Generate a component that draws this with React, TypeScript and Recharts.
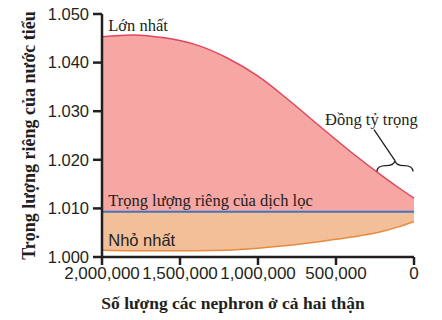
import React from 'react'
import { ComposedChart, Area, Line, XAxis, YAxis, ReferenceDot } from 'recharts'

const nephrons = [2000000, 1800000, 1600000, 1400000, 1200000, 1000000, 800000, 600000, 400000, 200000, 100000, 0]
const maxSG = [1.0453, 1.0457, 1.0451, 1.0437, 1.041, 1.0372, 1.0322, 1.0268, 1.0215, 1.0166, 1.0143, 1.0121]
const minSG = [1.0014, 1.0013, 1.0013, 1.0013, 1.0014, 1.0018, 1.0024, 1.0032, 1.0041, 1.0053, 1.0062, 1.0073]
const filtrateSG = [1.0093, 1.0093, 1.0093, 1.0093, 1.0093, 1.0093, 1.0093, 1.0093, 1.0093, 1.0093, 1.0093, 1.0093]
const xTicks = [2000000, 1500000, 1000000, 500000, 0]
const yTicks = [1.0, 1.01, 1.02, 1.03, 1.04, 1.05]

const rows = nephrons.map((n, i) => ({
  n,
  max: maxSG[i],
  min: minSG[i],
  filtrate: filtrateSG[i],
  upper: [filtrateSG[i], maxSG[i]],
  lower: [minSG[i], filtrateSG[i]],
}))

const serif = '"Liberation Serif", "DejaVu Serif", serif'
const sans = '"Liberation Sans", Arial, sans-serif'
const ink = '#231f20'

function textAt(label: string, font: string, size: number) {
  return (props: any) => (
    <text x={props.cx} y={props.cy} fontFamily={font} fontSize={size} fill={ink}>
      {label}
    </text>
  )
}

function brace(props: any) {
  const { cx, cy } = props
  const w = 18
  return (
    <g fill="none" stroke={ink} strokeWidth={1.3}>
      <path
        d={`M ${cx - w} ${cy + 5} Q ${cx - w} ${cy - 1} ${cx - 9} ${cy - 1} Q ${cx - 1} ${cy - 1} ${cx} ${cy - 6} Q ${cx + 1} ${cy - 1} ${cx + 9} ${cy - 1} Q ${cx + w} ${cy - 1} ${cx + w} ${cy + 5}`}
      />
      <line x1={cx} y1={cy - 6} x2={cx - 21} y2={cy - 37} />
    </g>
  )
}

const fmtX = (v: number) => v.toLocaleString('en-US')

function XTitle(props: any) {
  const vb = props.viewBox
  return (
    <text
      x={vb.x + vb.width / 2 - 25}
      y={309}
      textAnchor="middle"
      fontFamily={serif}
      fontWeight="bold"
      fontSize={17.5}
      fill={ink}
    >
      Số lượng các nephron ở cả hai thận
    </text>
  )
}

function YTitle(props: any) {
  const vb = props.viewBox
  const cy = vb.y + vb.height / 2
  return (
    <text
      x={35}
      y={cy}
      transform={`rotate(-90 35 ${cy})`}
      textAnchor="middle"
      fontFamily={serif}
      fontWeight="bold"
      fontSize={18}
      fill={ink}
    >
      Trọng lượng riêng của nước tiểu
    </text>
  )
}

export default function App() {
  return (
    <div style={{ position: 'absolute', left: 0, top: 0, width: 442, height: 320, background: '#fff' }}>
      <ComposedChart width={442} height={320} data={rows} margin={{ top: 14, right: 28, left: 0, bottom: 0 }}>
        <XAxis
          dataKey="n"
          type="number"
          domain={[0, 2000000]}
          reversed
          ticks={xTicks}
          tickFormatter={fmtX}
          height={63}
          stroke={ink}
          strokeWidth={2.5}
          tickSize={8}
          tick={{ fontSize: 17, fill: ink, fontFamily: sans }}
          interval={0}
          label={<XTitle />}
        />
        <YAxis
          type="number"
          domain={[1.0, 1.05]}
          ticks={yTicks}
          tickFormatter={(v: number) => v.toFixed(3)}
          width={102}
          stroke={ink}
          strokeWidth={2.5}
          tickSize={9}
          tick={{ fontSize: 16.5, fill: ink, fontFamily: sans, dx: -2 }}
          interval={0}
          label={<YTitle />}
        />
        <Area dataKey="upper" type="monotone" fill="#f6a6a3" fillOpacity={1} stroke="none" isAnimationActive={false} />
        <Area dataKey="lower" type="monotone" fill="#f2bf98" fillOpacity={1} stroke="none" isAnimationActive={false} />
        <Line dataKey="max" type="monotone" stroke="#e0475e" strokeWidth={1.5} dot={false} isAnimationActive={false} />
        <Line dataKey="min" type="monotone" stroke="#e8893c" strokeWidth={1.5} dot={false} isAnimationActive={false} />
        <Line dataKey="filtrate" type="monotone" stroke="#3c78c0" strokeWidth={2} dot={false} isAnimationActive={false} />
        <ReferenceDot x={1960000} y={1.0466} r={0} shape={textAt('Lớn nhất', serif, 16.5)} />
        <ReferenceDot x={1960000} y={1.0104} r={0} shape={textAt('Trọng lượng riêng của dịch lọc', serif, 16.5)} />
        <ReferenceDot x={1960000} y={1.0022} r={0} shape={textAt('Nhỏ nhất', sans, 16.5)} />
        <ReferenceDot x={570000} y={1.0272} r={0} shape={textAt('Đồng tỷ trọng', serif, 16.5)} />
        <ReferenceDot x={122000} y={1.0186} r={0} shape={brace} />
      </ComposedChart>
    </div>
  )
}
